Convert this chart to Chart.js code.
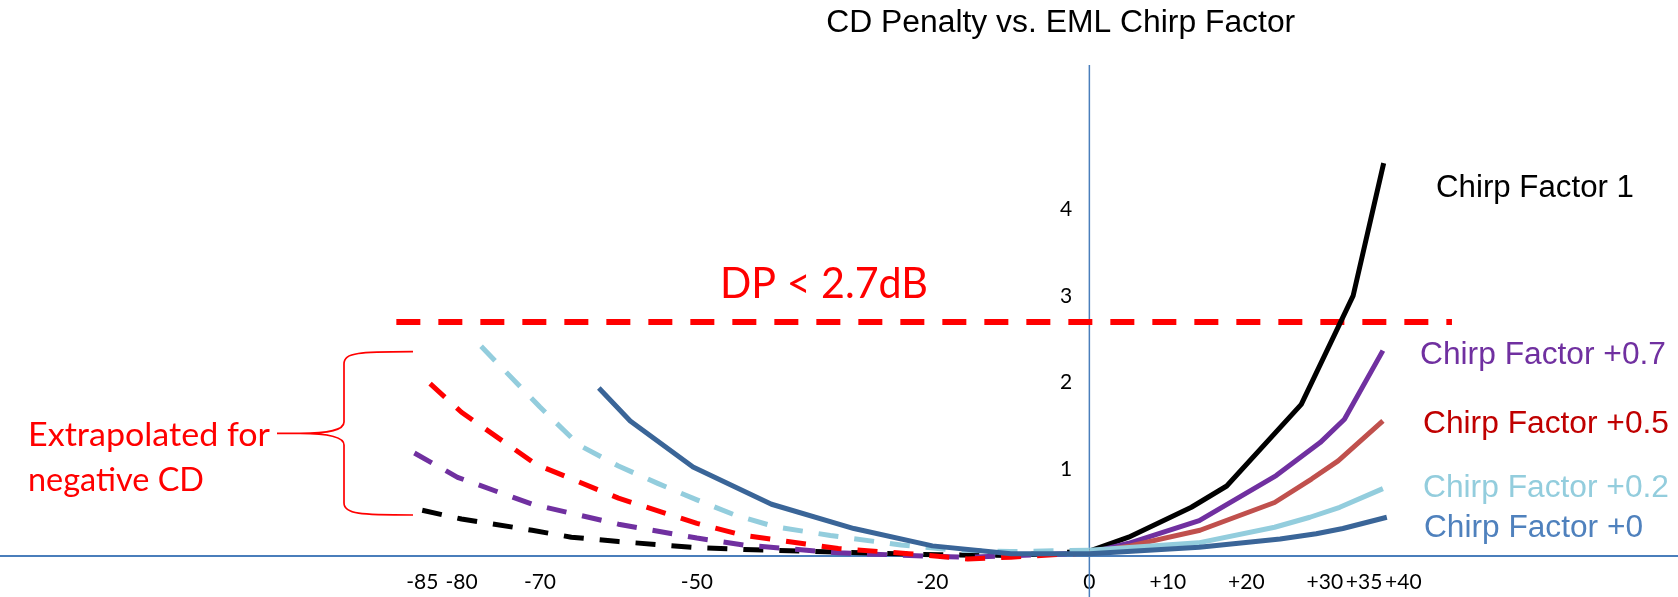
<!DOCTYPE html>
<html>
<head>
<meta charset="utf-8">
<title>CD Penalty vs. EML Chirp Factor</title>
<script src="https://cdn.jsdelivr.net/npm/chart.js@4.4.1/dist/chart.umd.min.js"></script>
<style>
  html, body { margin: 0; padding: 0; background: #fff; }
  #wrap { width: 1678px; height: 597px; position: relative; }
</style>
</head>
<body>
<div id="wrap"><canvas id="cdChart"></canvas></div>
<script>
// CD (ps/nm) vs. dispersion penalty (dB), one curve per chirp factor
// negative CD side is the extrapolated part (dashed)
const cdTicks = [-85, -80, -70, -50, -20, 0, 10, 20, 30, 35, 40];
const penaltyTicks = [1, 2, 3, 4];

const chirp1 = [
  [-85, 0.53], [-80, 0.43], [-71, 0.30], [-66, 0.22], [-60, 0.17], [-50, 0.10],
  [-44, 0.078], [-32, 0.048], [-19, 0.017], [-10, 0.01], [0, 0.06],
  [5, 0.22], [13, 0.565], [17.5, 0.81], [27, 1.75], [33.6, 3.0], [37.5, 4.53],
];
const chirp07 = [
  [-86, 1.19], [-80.5, 0.91], [-71, 0.60], [-60, 0.37], [-50, 0.21], [-44, 0.13],
  [-32, 0.04], [-20, 0.0], [-15, -0.01], [0, 0.04],
  [5, 0.15], [14, 0.41], [23.8, 0.93], [29.4, 1.31], [32.5, 1.58], [37.4, 2.37],
];
const chirp05 = [
  [-84, 1.99], [-80, 1.66], [-70.5, 1.06], [-60, 0.67], [-50, 0.38], [-44, 0.24],
  [-40, 0.19], [-32, 0.09], [-23, 0.03], [-15.5, -0.03], [-10, -0.01], [0, 0.04],
  [5.2, 0.12], [14.1, 0.30], [23.6, 0.62], [28.3, 0.89], [31.7, 1.10], [37.4, 1.56],
];
const chirp02 = [
  [-77.5, 2.42], [-70, 1.72], [-65, 1.28], [-60, 1.04], [-55, 0.84], [-50, 0.65],
  [-45, 0.47], [-40, 0.34], [-33, 0.24], [-24, 0.13], [-17, 0.07], [-10, 0.055], [0, 0.07],
  [13.9, 0.155], [23.6, 0.335], [28.1, 0.45], [31.9, 0.565], [37.4, 0.78],
];
const chirp0 = [
  [-62.5, 1.94], [-58.5, 1.56], [-50.5, 1.03], [-40.5, 0.6], [-30, 0.32], [-20, 0.12],
  [-10, 0.03], [0, 0.03],
  [14, 0.105], [24.3, 0.2], [28.9, 0.26], [32.3, 0.32], [37.9, 0.45],
];

const dpLimit = 2.7;
const dpLimitSpan = [-88.3, 46.2];

const axisBlue = "#4A7EBB";
// penalty labels sit a little left of the CD = 0 line
const penaltyLabelAt = -2.2;
const toPoints = (pairs) => pairs.map(([x, y]) => ({ x, y }));

function curve(label, pairs, color, opts = {}) {
  const dashed = opts.dashed !== false;
  return {
    label,
    data: toPoints(pairs),
    borderColor: color,
    borderWidth: 5,
    borderCapStyle: "butt",
    borderJoinStyle: "round",
    pointRadius: 0,
    tension: 0,
    clip: false,
    segment: {
      // extrapolated (negative CD) part is dashed
      borderDash: (ctx) => (dashed && ctx.p0.parsed.x < 0 ? [20, 16] : undefined),
      borderColor: (ctx) => (ctx.p0.parsed.x < 0 && opts.leftColor ? opts.leftColor : undefined),
    },
  };
}

// text helper: optional width squeezes/stretches the run to a fixed width
function text(ctx, str, x, y, font, color, width, align) {
  ctx.save();
  ctx.font = font;
  ctx.fillStyle = color;
  ctx.textBaseline = "alphabetic";
  ctx.textAlign = "left";
  const w = ctx.measureText(str).width;
  const sx = width ? width / w : 1;
  const left = align === "center" ? x - (w * sx) / 2 : x;
  ctx.translate(left, y);
  ctx.scale(sx, 1);
  ctx.fillText(str, 0, 0);
  ctx.restore();
}

const seriesLabels = {
  "Chirp Factor 1": { x: 1436, y: 197, w: 198, color: "#000000" },
  "Chirp Factor +0.7": { x: 1420, y: 364, w: 246, color: "#7030A0" },
  "Chirp Factor +0.5": { x: 1423, y: 433, w: 246, color: "#C00000" },
  "Chirp Factor +0.2": { x: 1423, y: 497, w: 246, color: "#93CDDD" },
  "Chirp Factor +0": { x: 1424, y: 537, w: 219, color: "#4F81BD" },
};

const annotations = {
  id: "annotations",
  beforeDatasetsDraw(chart) {
    const { ctx, chartArea, scales } = chart;
    const x0 = scales.x.getPixelForValue(0);
    // vertical axis at CD = 0, running on through the "0" label
    ctx.save();
    ctx.strokeStyle = axisBlue;
    ctx.lineWidth = 1.5;
    ctx.beginPath();
    ctx.moveTo(x0, chartArea.top);
    ctx.lineTo(x0, chart.height);
    ctx.stroke();
    ctx.restore();
  },
  afterDraw(chart) {
    const { ctx } = chart;

    text(ctx, "CD Penalty vs. EML Chirp Factor", 1060.7, 32, "31px 'Liberation Sans', Arial, sans-serif", "#000", 469, "center");

    chart.data.datasets.forEach((ds) => {
      const l = seriesLabels[ds.label];
      if (l) text(ctx, ds.label, l.x, l.y, "31px 'Liberation Sans', Arial, sans-serif", l.color, l.w);
    });

    text(ctx, "DP < " + dpLimit + "dB", 720, 298, "42px Lato, sans-serif", "#FF0000", 208);
    text(ctx, "Extrapolated for", 28, 446, "33px Lato, sans-serif", "#FF0000", 242);
    text(ctx, "negative CD", 28, 491, "33px Lato, sans-serif", "#FF0000", 176);

    // brace grouping the extrapolated curves
    ctx.save();
    ctx.strokeStyle = "#FF0000";
    ctx.lineWidth = 1.7;
    ctx.beginPath();
    ctx.moveTo(413, 351.7);
    ctx.bezierCurveTo(360, 352, 344, 352, 344, 364);
    ctx.lineTo(344, 422);
    ctx.bezierCurveTo(344, 430, 330, 433.3, 300, 433.3);
    ctx.lineTo(277, 433.3);
    ctx.moveTo(300, 433.3);
    ctx.bezierCurveTo(330, 433.3, 344, 437, 344, 445);
    ctx.lineTo(344, 503);
    ctx.bezierCurveTo(344, 514, 360, 515, 413, 515);
    ctx.stroke();
    ctx.restore();
  },
};

new Chart(document.getElementById("cdChart"), {
  type: "line",
  data: {
    datasets: [
      curve("Chirp Factor +0", chirp0, "#3A6598", { dashed: false }),
      curve("Chirp Factor +0.2", chirp02, "#93CDDD"),
      curve("Chirp Factor +0.5", chirp05, "#C0504D", { leftColor: "#FF0000" }),
      curve("Chirp Factor +0.7", chirp07, "#7030A0"),
      curve("Chirp Factor 1", chirp1, "#000000"),
      {
        label: "DP limit",
        data: dpLimitSpan.map((x) => ({ x, y: dpLimit })),
        borderColor: "#FF0000",
        borderWidth: 6,
        borderDash: [24, 18],
        borderCapStyle: "butt",
        pointRadius: 0,
        clip: false,
      },
    ],
  },
  options: {
    responsive: true,
    maintainAspectRatio: false,
    animation: false,
    layout: { padding: { top: 65, left: 0, right: 0, bottom: 0 } },
    plugins: {
      legend: { display: false },
      tooltip: { enabled: false },
    },
    scales: {
      x: {
        type: "linear",
        min: -138.8,
        max: 75,
        afterBuildTicks: (scale) => {
          scale.ticks = cdTicks.map((value) => ({ value }));
        },
        ticks: {
          autoSkip: false,
          maxRotation: 0,
          padding: 2,
          color: "#000",
          font: { family: "Lato", size: 21 },
          callback: (v) => (v > 0 ? "+" + v : String(v)),
        },
        grid: {
          display: true,
          drawOnChartArea: false,
          drawTicks: true,
          tickLength: 11.5,
          color: "rgba(0,0,0,0)",
        },
        border: { display: true, color: axisBlue, width: 2 },
      },
      y: {
        type: "linear",
        position: { x: penaltyLabelAt },
        min: 0,
        max: 5.661,
        afterBuildTicks: (scale) => {
          scale.ticks = penaltyTicks.map((value) => ({ value }));
        },
        ticks: {
          color: "#000",
          font: { family: "Lato", size: 21 },
        },
        grid: { display: false },
        border: { display: false },
      },
    },
  },
  plugins: [annotations],
});
</script>
</body>
</html>
